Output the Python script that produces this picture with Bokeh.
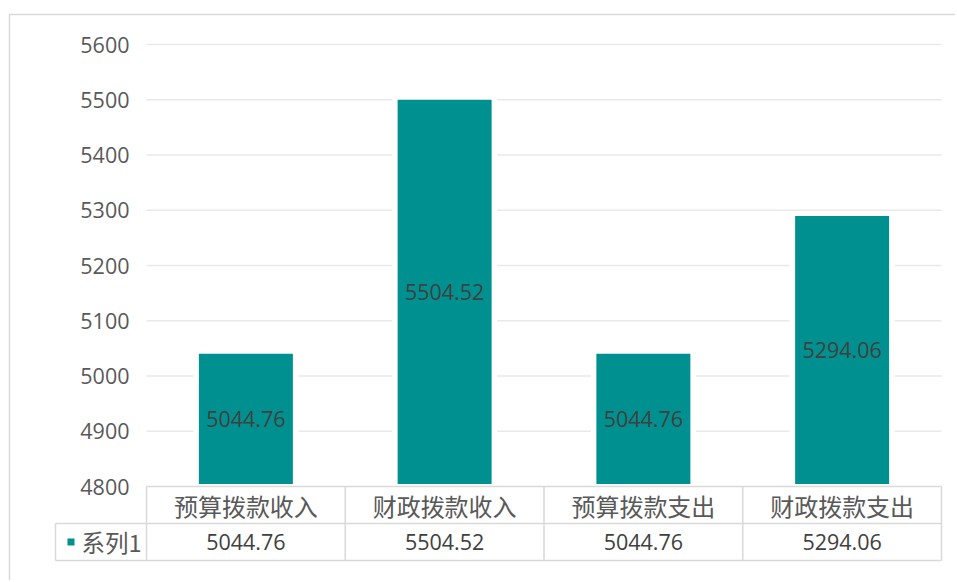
from bokeh.plotting import figure
from bokeh.models import Range1d
from bokeh.core.properties import value
from bokeh.embed import file_html
from bokeh.resources import INLINE

# ---------------- data ----------------
categories = ["预算拨款收入", "财政拨款收入", "预算拨款支出", "财政拨款支出"]
values = [5044.76, 5504.52, 5044.76, 5294.06]
series_name = "系列1"
y_ticks = [4800, 4900, 5000, 5100, 5200, 5300, 5400, 5500, 5600]
y_min, y_max = 4800, 5600

# ---------------- layout (page pixels) ----------------
W, H = 955, 580
PAGE = 0
plot_left, plot_right = 146, 941
plot_top, plot_bottom = 44, 486
row_h = 37
table_left = 55
border_x, border_y = 9, 14

n = len(categories)
kx = (plot_right - plot_left) / n
ky = (plot_bottom - plot_top) / (y_max - y_min)
x0 = -(plot_left - PAGE) / kx
x1 = x0 + W / kx
y_top = y_max + (plot_top - PAGE) / ky
y_bot = y_top - H / ky


def X(px):
    return x0 + (px - PAGE) / kx


def Y(py):
    return y_top - (py - PAGE) / ky


TEAL = "#00908f"
GRID = "#e9e9e9"
TABLE = "#d9d9d9"
LABEL = "#595959"
DARK = "#404040"
NUM_FONT = value("Open Sans")
CJK_FONT = value("Noto Sans CJK SC")
NUM_SIZE = "21.5px"

p = figure(width=W, height=H, x_range=Range1d(x0, x1), y_range=Range1d(y_bot, y_top),
           x_axis_type=None, y_axis_type=None, toolbar_location=None,
           output_backend="svg", min_border=0)
p.outline_line_color = None
p.background_fill_color = "white"
p.border_fill_color = "white"

# outer chart border (left and top)
p.line(x=[X(border_x), X(border_x), X(PAGE + W + 20)],
       y=[Y(PAGE + H + 20), Y(border_y), Y(border_y)],
       line_color=TABLE, line_width=1.5)

# gridlines (above the baseline)
grid_vals = [t for t in y_ticks if t > y_min]
p.segment(x0=[0] * len(grid_vals), x1=[n] * len(grid_vals), y0=grid_vals, y1=grid_vals,
          line_color=GRID, line_width=1.5)

# y tick labels
p.text(x=[X(plot_left - 17)] * len(y_ticks), y=y_ticks, text=[str(t) for t in y_ticks],
       text_align="right", text_baseline="middle", text_font=NUM_FONT,
       text_font_size=NUM_SIZE, text_color=LABEL)

# bars
xs = [i + 0.5 for i in range(n)]
bar_w = 99 / kx
p.vbar(x=xs, width=(bar_w * kx + 6) / kx, bottom=y_min, top=values,
       fill_color="white", line_color=None)
p.vbar(x=xs, width=bar_w, bottom=y_min, top=values,
       fill_color=TEAL, line_color="white", line_width=5)

# data labels in the middle of bars
p.text(x=xs, y=[(y_min + v) / 2 for v in values], text=[f"{v:.2f}" for v in values],
       text_align="center", text_baseline="middle", text_font=NUM_FONT,
       text_font_size=NUM_SIZE, text_color=DARK)

# data table
r0 = Y(plot_bottom)
r1 = Y(plot_bottom + row_h)
r2 = Y(plot_bottom + 2 * row_h)
tl = X(table_left)
hx0 = [0, tl, tl, tl] + list(range(n + 1))
hx1 = [n, n, n, tl] + list(range(n + 1))
hy0 = [r0, r1, r2, r1] + [r0] * (n + 1)
hy1 = [r0, r1, r2, r2] + [r2] * (n + 1)
p.segment(x0=hx0, x1=hx1, y0=hy0, y1=hy1, line_color=TABLE, line_width=1.5)

p.text(x=xs, y=[(r0 + r1) / 2] * n, text=categories, text_align="center",
       text_baseline="middle", text_font=CJK_FONT, text_font_size="24px",
       text_color=LABEL)
p.text(x=xs, y=[(r1 + r2) / 2] * n, text=[f"{v:.2f}" for v in values],
       text_align="center", text_baseline="middle", text_font=NUM_FONT,
       text_font_size=NUM_SIZE, text_color=DARK)

# legend key + series name
p.scatter(x=[X(70.5)], y=[(r1 + r2) / 2], marker="square", size=7,
          fill_color=TEAL, line_color=None)
p.text(x=[X(81)], y=[(r1 + r2) / 2], text=[series_name], text_align="left",
       text_baseline="middle", text_font=CJK_FONT, text_font_size="23.5px",
       text_color=LABEL)

open("out.html", "w").write(file_html(p, INLINE))
